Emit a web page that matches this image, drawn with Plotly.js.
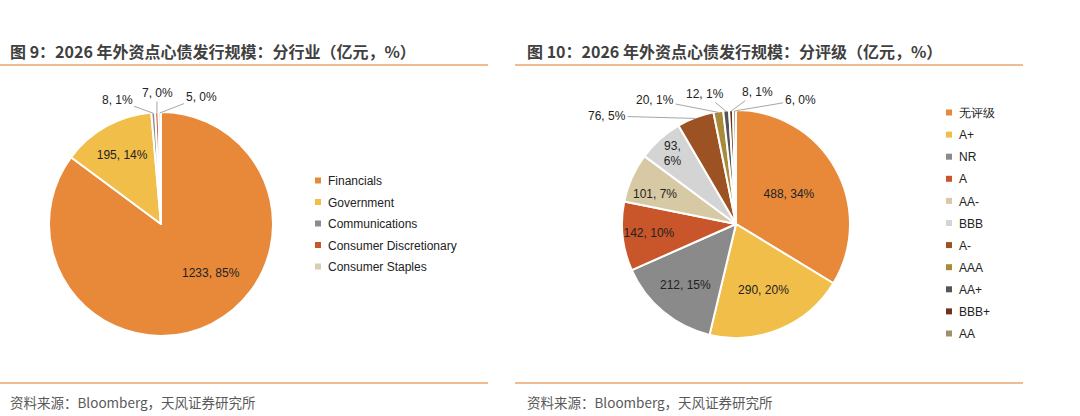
<!DOCTYPE html>
<html>
<head>
<meta charset="utf-8">
<script src="https://cdn.plot.ly/plotly-3.0.1.min.js"></script>
<style>
html,body{margin:0;padding:0;background:#fff;}
#chart{width:1080px;height:416px;}
</style>
</head>
<body>
<div id="chart"></div>
<script>
// ---- Data ----
const industryLabels = ['Financials', 'Government', 'Communications', 'Consumer Discretionary', 'Consumer Staples'];
const industryValues = [1233, 195, 8, 7, 5];
const industryPct = ['85%', '14%', '1%', '0%', '0%'];
const industryColors = ['#E8893A', '#F2BE4A', '#8C8C8C', '#C9552A', '#D9CDB0'];

const ratingLabels = ['无评级', 'A+', 'NR', 'A', 'AA-', 'BBB', 'A-', 'AAA', 'AA+', 'BBB+', 'AA'];
const ratingValues = [488, 290, 212, 142, 101, 93, 76, 20, 12, 8, 6];
const ratingPct = ['34%', '20%', '15%', '10%', '7%', '6%', '5%', '1%', '1%', '1%', '0%'];
const ratingColors = ['#E8893A', '#F2BE4A', '#8A8A8A', '#C9552A', '#D8C9A5', '#D4D4D4', '#9C5223', '#A88A3A', '#555555', '#6B3320', '#A09070'];

const title1 = '图 9：2026 年外资点心债发行规模：分行业（亿元，%）';
const title2 = '图 10：2026 年外资点心债发行规模：分评级（亿元，%）';
const sourceText = '资料来源：Bloomberg，天风证券研究所';

// ---- Layout helpers (styling only) ----
const W = 1080, H = 416;
const px = x => x / W;
const py = y => (H - y) / H;

// pie boxes in pixels
const pie1 = {x0: 49, x1: 273, y0: 112, y1: 336};
const pie2 = {x0: 622, x1: 850, y0: 110, y1: 338};

// label modes: 'in' = drawn by plotly inside, else pixel position of label text
const industryLabelPos = [[211, 273], 'in', [117, 100], [157, 93], [201, 97]];
const ratingLabelPos = ['in', 'in', 'in', 'in', [655, 194], 'in', [607, 116], [655, 100], [705, 94], [757, 92], [800, 100]];

const labelFont = {family: 'Liberation Sans, Arial, sans-serif', size: 12, color: '#222'};

function makePie(labels, values, pct, colors, box, posList, legendId) {
  return {
    type: 'pie',
    labels: labels,
    values: values,
    text: pct,
    marker: {colors: colors, line: {color: '#fff', width: 2}},
    sort: false,
    direction: 'clockwise',
    rotation: 0,
    texttemplate: labels.map(l => l === 'BBB' ? '%{value},<br>%{text}' : '%{value}, %{text}'),
    textposition: posList.map(p => p === 'in' ? 'inside' : 'none'),
    insidetextorientation: 'horizontal',
    textfont: labelFont,
    insidetextfont: labelFont,
    hoverinfo: 'skip',
    domain: {x: [px(box.x0), px(box.x1)], y: [py(box.y1), py(box.y0)]},
    legend: legendId,
    showlegend: true
  };
}

function labelAnnotations(values, pct, box, posList) {
  const cx = (box.x0 + box.x1) / 2, cy = (box.y0 + box.y1) / 2;
  const r = Math.min(box.x1 - box.x0, box.y1 - box.y0) / 2;
  const total = values.reduce((a, b) => a + b, 0);
  const anns = [];
  let cum = 0;
  values.forEach((v, i) => {
    const mid = (cum + v / 2) / total * 2 * Math.PI;
    cum += v;
    const p = posList[i];
    if (p === 'in') return;
    const txt = v + ', ' + pct[i];
    const dx = p[0] - cx, dy = p[1] - cy;
    const inside = Math.sqrt(dx * dx + dy * dy) < r;
    if (inside) {
      anns.push({text: txt, x: px(p[0]), y: py(p[1]), xref: 'paper', yref: 'paper',
        xanchor: 'center', yanchor: 'middle', showarrow: false, font: labelFont});
    } else {
      const ex = cx + (r - 1) * Math.sin(mid), ey = cy - (r - 1) * Math.cos(mid);
      anns.push({text: txt, x: px(ex), y: py(ey), xref: 'paper', yref: 'paper',
        ax: p[0] - ex, ay: p[1] - ey, showarrow: true, arrowhead: 0, arrowwidth: 1,
        arrowcolor: '#A6A6A6', standoff: 0, startstandoff: 0, font: labelFont,
        xanchor: 'center', yanchor: 'middle'});
    }
  });
  return anns;
}

const trace1 = makePie(industryLabels, industryValues, industryPct, industryColors, pie1, industryLabelPos, 'legend');
const trace2 = makePie(ratingLabels, ratingValues, ratingPct, ratingColors, pie2, ratingLabelPos, 'legend2');

const titleFont = {family: 'Noto Sans CJK SC, sans-serif', size: 16, color: '#404040', weight: 'bold'};
const srcFont = {family: 'Noto Sans CJK SC, sans-serif', size: 13.5, color: '#595959'};
const lineColor = '#E9A46E';
const legendFont = {family: 'Liberation Sans, Arial, sans-serif', size: 12, color: '#222'};

const layout = {
  width: W, height: H,
  margin: {l: 0, r: 0, t: 0, b: 0},
  paper_bgcolor: '#fff',
  showlegend: true,
  legend: {x: px(288), xanchor: 'left', y: py(166), yanchor: 'top', font: legendFont,
    bgcolor: 'rgba(0,0,0,0)', traceorder: 'normal'},
  legend2: {x: px(919), xanchor: 'left', y: py(98), yanchor: 'top', font: legendFont,
    bgcolor: 'rgba(0,0,0,0)', traceorder: 'normal'},
  annotations: [
    {text: '<b>' + title1 + '</b>', x: px(8), y: py(51), xref: 'paper', yref: 'paper', xanchor: 'left', yanchor: 'middle', showarrow: false, font: titleFont},
    {text: '<b>' + title2 + '</b>', x: px(525), y: py(51), xref: 'paper', yref: 'paper', xanchor: 'left', yanchor: 'middle', showarrow: false, font: titleFont},
    {text: sourceText, x: px(8), y: py(402), xref: 'paper', yref: 'paper', xanchor: 'left', yanchor: 'middle', showarrow: false, font: srcFont},
    {text: sourceText, x: px(525), y: py(402), xref: 'paper', yref: 'paper', xanchor: 'left', yanchor: 'middle', showarrow: false, font: srcFont}
  ].concat(
    labelAnnotations(industryValues, industryPct, pie1, industryLabelPos),
    labelAnnotations(ratingValues, ratingPct, pie2, ratingLabelPos)
  ),
  shapes: [
    {type: 'line', xref: 'paper', yref: 'paper', x0: 0, x1: px(488), y0: py(65), y1: py(65), line: {color: lineColor, width: 1.5}},
    {type: 'line', xref: 'paper', yref: 'paper', x0: px(515), x1: px(1023), y0: py(65), y1: py(65), line: {color: lineColor, width: 1.5}},
    {type: 'line', xref: 'paper', yref: 'paper', x0: 0, x1: px(488), y0: py(383), y1: py(383), line: {color: lineColor, width: 1.5}},
    {type: 'line', xref: 'paper', yref: 'paper', x0: px(515), x1: px(1023), y0: py(383), y1: py(383), line: {color: lineColor, width: 1.5}}
  ]
};

function tweakLegends() {
  const gd = document.getElementById('chart');
  [['legend', 21.5], ['legend2', 22.1]].forEach(([cls, gap]) => {
    const lg = gd.querySelector('g.' + cls);
    if (!lg) return;
    lg.querySelectorAll('[clip-path]').forEach(el => el.removeAttribute('clip-path'));
    const items = lg.querySelectorAll('g.traces');
    let y0 = null;
    items.forEach((it, i) => {
      const tr = it.getAttribute('transform') || '';
      const m = tr.match(/translate\(\s*([-\d.]+)[ ,]+([-\d.]+)/);
      const x = m ? parseFloat(m[1]) : 0;
      const y = m ? parseFloat(m[2]) : 0;
      if (y0 === null) y0 = y;
      it.setAttribute('transform', 'translate(' + x + ',' + (y0 + i * gap) + ')');
      it.querySelectorAll('path.legendpie').forEach(p => {
        p.setAttribute('d', 'M3,3H-3V-3H3Z');
        p.setAttribute('transform', 'translate(30,0)');
        p.style.strokeWidth = '0px';
      });
    });
  });
}

Plotly.newPlot('chart', [trace1, trace2], layout, {displayModeBar: false, staticPlot: true}).then(gd => {
  tweakLegends();
  gd.on('plotly_afterplot', tweakLegends);
});
</script>
</body>
</html>
